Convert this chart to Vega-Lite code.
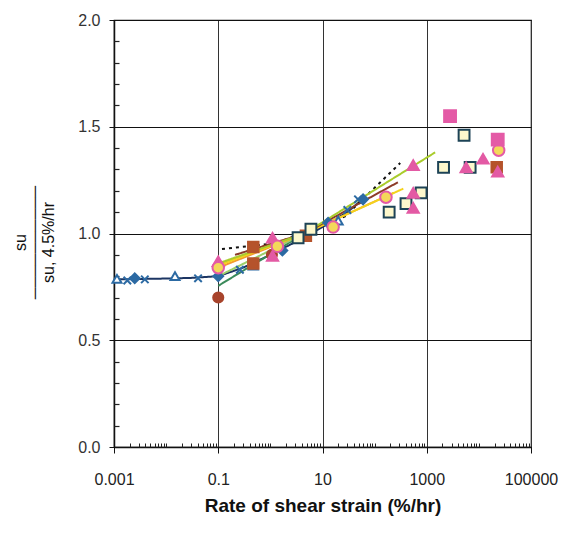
{
  "$schema": "https://vega.github.io/schema/vega-lite/v6.json",
  "width": 417,
  "height": 427,
  "autosize": {"type": "none"},
  "padding": {"left": 114, "top": 20, "right": 47, "bottom": 89},
  "background": "white",
  "config": {
    "view": {"stroke": "#111", "strokeWidth": 1.2},
    "font": "Liberation Sans"
  },
  "datasets": {
    "fits": [
      {"s": "navy", "x": 0.001, "y": 0.785},
      {"s": "navy", "x": 0.003, "y": 0.787},
      {"s": "navy", "x": 0.01, "y": 0.789},
      {"s": "navy", "x": 0.03, "y": 0.792},
      {"s": "navy", "x": 0.1, "y": 0.80},
      {"s": "navy", "x": 0.3, "y": 0.84},
      {"s": "navy", "x": 1, "y": 0.9},
      {"s": "navy", "x": 3, "y": 0.96},
      {"s": "navy", "x": 10, "y": 1.03},
      {"s": "navy", "x": 30, "y": 1.1},
      {"s": "navy", "x": 65, "y": 1.17},
      {"s": "dotted", "x": 0.118, "y": 0.927},
      {"s": "dotted", "x": 1.35, "y": 0.955},
      {"s": "dotted", "x": 27, "y": 1.08},
      {"s": "dotted", "x": 310, "y": 1.33},
      {"s": "darkgreen", "x": 0.1, "y": 0.755},
      {"s": "darkgreen", "x": 4.5, "y": 1.0},
      {"s": "lightgreen", "x": 0.1, "y": 0.80},
      {"s": "lightgreen", "x": 4.5, "y": 1.0},
      {"s": "pink", "x": 0.1, "y": 0.855},
      {"s": "pink", "x": 4.5, "y": 1.0},
      {"s": "orange", "x": 0.1, "y": 0.84},
      {"s": "orange", "x": 4.5, "y": 1.0},
      {"s": "orange", "x": 230, "y": 1.19},
      {"s": "yellow", "x": 0.1, "y": 0.85},
      {"s": "yellow", "x": 4.5, "y": 1.0},
      {"s": "yellow", "x": 355, "y": 1.21},
      {"s": "brown", "x": 0.21, "y": 0.90},
      {"s": "brown", "x": 4.5, "y": 1.0},
      {"s": "brown", "x": 280, "y": 1.24},
      {"s": "lime", "x": 0.1, "y": 0.86},
      {"s": "lime", "x": 4.5, "y": 1.0},
      {"s": "lime", "x": 1450, "y": 1.38}
    ],
    "tests": [
      {"s": "open triangle", "x": 0.00114, "y": 0.787},
      {"s": "open triangle", "x": 0.0148, "y": 0.80},
      {"s": "open triangle", "x": 0.47, "y": 0.85},
      {"s": "open triangle", "x": 20, "y": 1.06},
      {"s": "cross", "x": 0.0018, "y": 0.78},
      {"s": "cross", "x": 0.0039, "y": 0.785},
      {"s": "cross", "x": 0.041, "y": 0.79},
      {"s": "cross", "x": 0.26, "y": 0.83},
      {"s": "cross", "x": 30, "y": 1.11},
      {"s": "cross", "x": 48, "y": 1.16},
      {"s": "diamond", "x": 0.0025, "y": 0.79},
      {"s": "diamond", "x": 0.1, "y": 0.80},
      {"s": "diamond", "x": 1.7, "y": 0.92},
      {"s": "diamond", "x": 12.8, "y": 1.05},
      {"s": "diamond", "x": 60, "y": 1.16},
      {"s": "brown circle", "x": 0.1, "y": 0.70},
      {"s": "brown circle", "x": 1.07, "y": 0.90},
      {"s": "brown square", "x": 0.47, "y": 0.937},
      {"s": "brown square", "x": 0.47, "y": 0.86},
      {"s": "brown square", "x": 4.8, "y": 0.99},
      {"s": "brown square", "x": 22000, "y": 1.31},
      {"s": "open square", "x": 3.4, "y": 0.98},
      {"s": "open square", "x": 6, "y": 1.02},
      {"s": "open square", "x": 190, "y": 1.10},
      {"s": "open square", "x": 400, "y": 1.14},
      {"s": "open square", "x": 780, "y": 1.19},
      {"s": "open square", "x": 2100, "y": 1.31},
      {"s": "open square", "x": 6800, "y": 1.31},
      {"s": "open square", "x": 5200, "y": 1.46},
      {"s": "pink triangle", "x": 0.1, "y": 0.87},
      {"s": "pink triangle", "x": 1.1, "y": 0.98},
      {"s": "pink triangle", "x": 1.1, "y": 0.895},
      {"s": "pink triangle", "x": 550, "y": 1.32},
      {"s": "pink triangle", "x": 550, "y": 1.19},
      {"s": "pink triangle", "x": 550, "y": 1.12},
      {"s": "pink triangle", "x": 5700, "y": 1.31},
      {"s": "pink triangle", "x": 12000, "y": 1.35},
      {"s": "pink triangle", "x": 23000, "y": 1.29},
      {"s": "pink circle", "x": 0.1, "y": 0.84},
      {"s": "pink circle", "x": 1.36, "y": 0.94},
      {"s": "pink circle", "x": 16, "y": 1.03},
      {"s": "pink circle", "x": 165, "y": 1.17},
      {"s": "pink circle", "x": 24000, "y": 1.39},
      {"s": "pink square", "x": 2800, "y": 1.55},
      {"s": "pink square", "x": 23000, "y": 1.44}
    ]
  },
  "layer": [
    {
      "data": {"name": "fits"},
      "mark": {"type": "line", "strokeWidth": 2},
      "encoding": {
        "x": {
          "field": "x", "type": "quantitative",
          "scale": {"type": "log", "domain": [0.001, 100000]},
          "axis": {
            "orient": "bottom",
            "values": [0.001, 0.1, 10, 1000, 100000],
            "format": "~g",
            "grid": true, "gridColor": "#333", "gridWidth": 1,
            "domainColor": "#111", "domainWidth": 1.5,
            "tickColor": "#111", "tickSize": 6, "tickWidth": 1,
            "labelFont": "Liberation Sans", "labelFontSize": 16, "labelColor": "#222",
            "labelPadding": 18, "labelFlush": false,
            "title": "Rate of shear strain (%/hr)",
            "titleFont": "Liberation Sans", "titleFontSize": 19, "titleFontWeight": "bold",
            "titleColor": "#111", "titlePadding": 9
          }
        },
        "y": {
          "field": "y", "type": "quantitative",
          "scale": {"domain": [0, 2], "nice": false},
          "axis": {
            "orient": "left",
            "values": [0, 0.5, 1, 1.5, 2],
            "format": ".1f",
            "grid": true, "gridColor": "#111", "gridWidth": 1,
            "domainColor": "#111", "domainWidth": 1.5,
            "tickColor": "#111", "tickSize": 5, "tickWidth": 1,
            "labelFont": "Liberation Sans", "labelFontSize": 16, "labelColor": "#333",
            "labelPadding": 9, "labelFlush": false,
            "title": ["su", "──────────", "su, 4.5%/hr"],
            "titleFont": "Liberation Sans", "titleFontSize": 16, "titleFontWeight": "normal",
            "titleColor": "#111", "titleLineHeight": 14,
            "titleAngle": -90, "titleBaseline": "bottom",
            "titleX": -86, "titleY": 222
          }
        },
        "color": {
          "field": "s", "type": "nominal", "legend": null,
          "scale": {
            "domain": ["navy", "dotted", "darkgreen", "lightgreen", "pink", "orange", "yellow", "brown", "lime"],
            "range": ["#1c3563", "#111111", "#3a8a5a", "#9ccf6a", "#e466a8", "#f39a2e", "#f4d21c", "#8c3b28", "#a9cc2c"]
          }
        },
        "strokeDash": {
          "field": "s", "type": "nominal", "legend": null,
          "scale": {
            "domain": ["navy", "dotted", "darkgreen", "lightgreen", "pink", "orange", "yellow", "brown", "lime"],
            "range": [[1, 0], [3, 4], [1, 0], [1, 0], [1, 0], [1, 0], [1, 0], [1, 0], [1, 0]]
          }
        }
      }
    },
    {
      "data": {"name": "tests"},
      "mark": {"type": "point", "opacity": 1, "strokeWidth": 2},
      "encoding": {
        "x": {
          "field": "x", "type": "quantitative",
          "scale": {"type": "log", "domain": [0.001, 100000]},
          "axis": {
            "orient": "bottom",
            "values": [0.002, 0.003, 0.004, 0.005, 0.006, 0.007, 0.008, 0.009, 0.01,
                       0.02, 0.03, 0.04, 0.05, 0.06, 0.07, 0.08, 0.09,
                       0.2, 0.3, 0.4, 0.5, 0.6, 0.7, 0.8, 0.9, 1,
                       2, 3, 4, 5, 6, 7, 8, 9,
                       20, 30, 40, 50, 60, 70, 80, 90, 100,
                       200, 300, 400, 500, 600, 700, 800, 900,
                       2000, 3000, 4000, 5000, 6000, 7000, 8000, 9000, 10000,
                       20000, 30000, 40000, 50000, 60000, 70000, 80000, 90000],
            "labels": false, "domain": false, "grid": false, "title": null,
            "tickColor": "#222", "tickSize": -4, "tickWidth": 1
          }
        },
        "y": {
          "field": "y", "type": "quantitative",
          "scale": {"domain": [0, 2], "nice": false},
          "axis": {
            "orient": "left",
            "values": [0.1, 0.2, 0.3, 0.4, 0.6, 0.7, 0.8, 0.9, 1.1, 1.2, 1.3, 1.4, 1.6, 1.7, 1.8, 1.9],
            "labels": false, "domain": false, "grid": false, "title": null,
            "tickColor": "#222", "tickSize": -5, "tickWidth": 1.2
          }
        },
        "shape": {
          "field": "s", "type": "nominal", "legend": null,
          "scale": {
            "domain": ["open triangle", "cross", "diamond", "brown circle", "brown square", "open square", "pink triangle", "pink circle", "pink square"],
            "range": ["triangle-up", "M-0.8,-0.8L0.8,0.8M-0.8,0.8L0.8,-0.8", "diamond", "circle", "square", "square", "triangle-up", "circle", "square"]
          }
        },
        "fill": {
          "field": "s", "type": "nominal", "legend": null,
          "scale": {
            "domain": ["open triangle", "cross", "diamond", "brown circle", "brown square", "open square", "pink triangle", "pink circle", "pink square"],
            "range": ["#ffffff", "transparent", "#2c6aa3", "#a8442c", "#b5532b", "#fdf8cc", "#e35aa4", "#f3d85a", "#e45aa6"]
          }
        },
        "stroke": {
          "field": "s", "type": "nominal", "legend": null,
          "scale": {
            "domain": ["open triangle", "cross", "diamond", "brown circle", "brown square", "open square", "pink triangle", "pink circle", "pink square"],
            "range": ["#2c6aa3", "#2c6aa3", "#2c6aa3", "#a8442c", "#b5532b", "#1d4356", "#e35aa4", "#e45aa6", "#e45aa6"]
          }
        },
        "size": {
          "field": "s", "type": "nominal", "legend": null,
          "scale": {
            "domain": ["open triangle", "cross", "diamond", "brown circle", "brown square", "open square", "pink triangle", "pink circle", "pink square"],
            "range": [80, 140, 70, 60, 70, 45, 95, 45, 60]
          }
        }
      }
    }
  ],
  "resolve": {"axis": {"x": "independent", "y": "independent"}}
}
